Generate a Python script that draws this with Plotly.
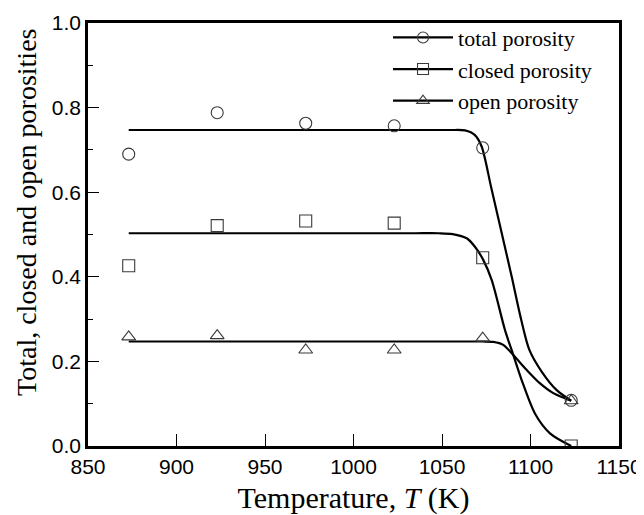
import plotly.graph_objects as go

# Measured data points
temperature_K = [873, 923, 973, 1023, 1073, 1123]
total_porosity = [0.690, 0.788, 0.763, 0.757, 0.705, 0.108]
closed_porosity = [0.426, 0.521, 0.532, 0.527, 0.445, 0.0]
open_porosity = [0.258, 0.261, 0.227, 0.227, 0.255, 0.107]

# Fitted curves
total_fit_T = [873, 950, 1000, 1040, 1055, 1063, 1068.6, 1072.4, 1077.7, 1083.3, 1089.4, 1094.1, 1099.3, 1106.3, 1114.8, 1123]
total_fit_y = [0.747, 0.747, 0.747, 0.747, 0.747, 0.746, 0.735, 0.708, 0.613, 0.511, 0.400, 0.310, 0.228, 0.176, 0.132, 0.107]

closed_fit_T = [873, 950, 1000, 1035, 1048, 1056, 1064, 1068.6, 1073.3, 1078.1, 1085.6, 1090.3, 1095.0, 1102.5, 1111.0, 1123]
closed_fit_y = [0.503, 0.503, 0.503, 0.503, 0.503, 0.501, 0.491, 0.471, 0.440, 0.392, 0.274, 0.215, 0.156, 0.077, 0.030, 0.0]

open_fit_T = [873, 950, 1000, 1050, 1065, 1073, 1079, 1084.6, 1090.3, 1097.8, 1105.4, 1112.9, 1123]
open_fit_y = [0.247, 0.247, 0.247, 0.247, 0.247, 0.247, 0.246, 0.239, 0.215, 0.180, 0.148, 0.125, 0.107]

series_names = ["total porosity", "closed porosity", "open porosity"]
x_ticks = [850, 900, 950, 1000, 1050, 1100, 1150]
y_ticks = [0.0, 0.2, 0.4, 0.6, 0.8, 1.0]
y_title = "Total, closed and open porosities"
x_title = "Temperature, <i>T</i> (K)"

symbols = ["circle-open", "square-open", "triangle-up-open"]
marker_color = "#3a3a3a"
line_color = "black"

fig = go.Figure()

fits = [(total_fit_T, total_fit_y), (closed_fit_T, closed_fit_y), (open_fit_T, open_fit_y)]
points = [total_porosity, closed_porosity, open_porosity]

for (fx, fy) in fits:
    fig.add_trace(go.Scatter(x=fx, y=fy, mode="lines",
                             line=dict(color=line_color, width=2.2, shape="spline", smoothing=0.8),
                             showlegend=False, hoverinfo="skip"))

for vals, sym in zip(points, symbols):
    fig.add_trace(go.Scatter(x=temperature_K, y=vals, mode="markers",
                             marker=dict(symbol=sym, size=12, color=marker_color,
                                         line=dict(width=1.1, color=marker_color)),
                             showlegend=False))

# legend entries
for name, sym in zip(series_names, symbols):
    fig.add_trace(go.Scatter(x=[None], y=[None], mode="lines+markers", name=name,
                             line=dict(color=line_color, width=2.2),
                             marker=dict(symbol=sym, size=11, color=marker_color,
                                         line=dict(width=1.1, color=marker_color))))

serif = "Liberation Serif, Times New Roman, serif"
sans = "Liberation Sans, Arial, sans-serif"

# The page body has an 8px margin, so the figure is sized/margined to put the
# plot frame at the same window pixels as the reference.
fig.update_layout(
    width=636, height=507,
    margin=dict(l=80, r=25, t=15, b=69, autoexpand=False),
    plot_bgcolor="white", paper_bgcolor="white",
    showlegend=True,
    legend=dict(x=0.565, y=1.015, xanchor="left", yanchor="top", itemwidth=60,
                font=dict(family=serif, size=22, color="black"),
                bgcolor="rgba(0,0,0,0)", borderwidth=0, tracegroupgap=0),
    xaxis=dict(range=[850, 1150], tickvals=x_ticks, ticktext=[str(v) for v in x_ticks],
               ticks="inside", ticklen=12, tickwidth=1.2, tickcolor="black",
               showline=True, linewidth=2.5, linecolor="black", mirror=True,
               showgrid=False, zeroline=False, automargin=False,
               tickfont=dict(family=sans, size=21, color="black"),
               title=dict(text=x_title,
                          font=dict(family=serif, size=30, color="black"), standoff=12)),
    yaxis=dict(range=[0, 1.0], tickvals=y_ticks, ticktext=[f"{v:.1f}" for v in y_ticks],
               ticks="inside", ticklen=11, tickwidth=1.2, tickcolor="black",
               minor=dict(dtick=0.1, ticks="inside", ticklen=5, tickwidth=1.2, tickcolor="black"),
               showline=True, linewidth=2.5, linecolor="black", mirror=True,
               showgrid=False, zeroline=False, automargin=False,
               tickfont=dict(family=sans, size=21, color="black")),
    annotations=[dict(text=y_title, textangle=-90, xref="paper", yref="paper",
                      x=-0.117, y=0.553, xanchor="center", yanchor="middle", showarrow=False,
                      font=dict(family=serif, size=28, color="black"))],
)

fig.write_html("out.html")
